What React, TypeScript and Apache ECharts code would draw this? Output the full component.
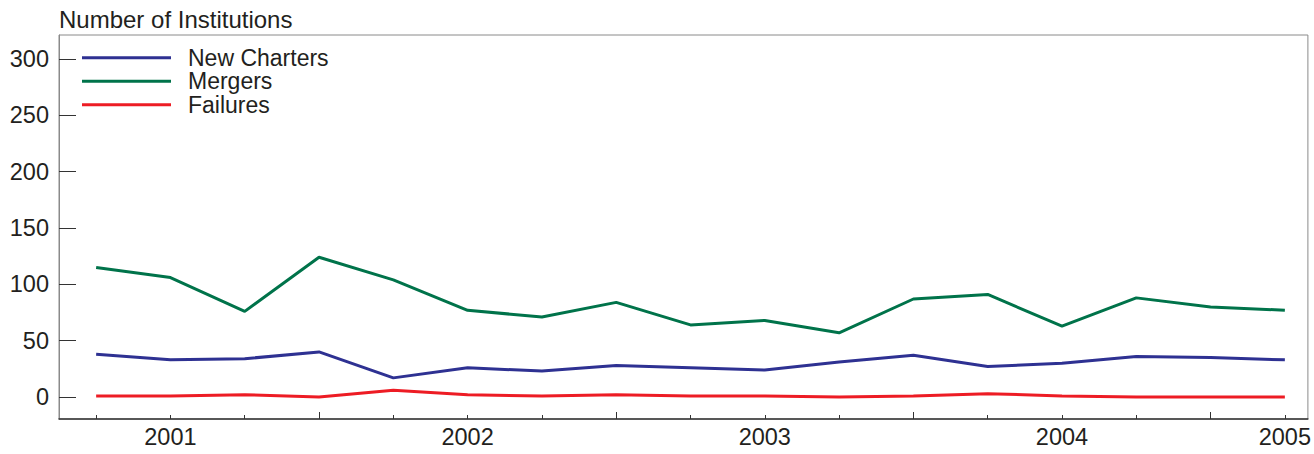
import React, { useEffect, useRef } from "react";
import * as echarts from "echarts";

const newCharters = [38, 33, 34, 40, 17, 26, 23, 28, 26, 24, 31, 37, 27, 30, 36, 35, 33];
const mergers = [115, 106, 76, 124, 104, 77, 71, 84, 64, 68, 57, 87, 91, 63, 88, 80, 77];
const failures = [1, 1, 2, 0, 6, 2, 1, 2, 1, 1, 0, 1, 3, 1, 0, 0, 0];
const xLabels = ["", "2001", "", "", "", "2002", "", "", "", "2003", "", "", "", "2004", "", "", "2005"];
const majorTickIdx = [3, 7, 11, 15];
const yTicks = [0, 50, 100, 150, 200, 250, 300];

const FONT = "Liberation Sans, Arial, Helvetica, sans-serif";
const TXT = "#231f20";

export default function App() {
  const ref = useRef<HTMLDivElement>(null);
  useEffect(() => {
    if (!ref.current) return;
    const chart = echarts.init(ref.current, null, { renderer: "svg" });
    const idx = xLabels.map((_, i) => i);
    const labelIdx = idx.filter((i) => xLabels[i] !== "");
    const toPairs = (arr: number[]) => arr.map((v, i) => [i, v]);
    chart.setOption({
      animation: false,
      textStyle: { fontFamily: FONT },
      title: {
        text: "Number of Institutions",
        left: 54,
        top: 2,
        textStyle: { fontFamily: FONT, fontSize: 24, fontWeight: "normal", color: TXT },
      },
      legend: {
        orient: "vertical",
        left: 82,
        top: 46,
        padding: 0,
        icon: "rect",
        itemWidth: 89,
        itemHeight: 3,
        itemGap: 0,
        textStyle: { fontFamily: FONT, fontSize: 23, color: TXT, lineHeight: 23.5, padding: [0, 0, 0, 12] },
        data: ["New Charters", "Mergers", "Failures"],
      },
      grid: {
        left: 59,
        right: 6,
        top: 35,
        bottom: 35,
        show: true,
        borderColor: "#8a8a8a",
        borderWidth: 1,
        containLabel: false,
      },
      xAxis: [
        {
          type: "value",
          min: -0.5,
          max: 16.31,
          axisLine: { show: true, onZero: false, lineStyle: { color: "#333", width: 1.5 } },
          axisTick: { show: true, inside: true, length: 4, customValues: idx, lineStyle: { color: "#333" } },
          axisLabel: {
            customValues: labelIdx,
            formatter: (v: number) => xLabels[Math.round(v)] || "",
            fontFamily: FONT,
            fontSize: 23.5,
            color: TXT,
            margin: 6,
          },
          splitLine: { show: false },
        },
        {
          type: "value",
          position: "bottom",
          min: -0.5,
          max: 16.31,
          axisLine: { show: false, onZero: false },
          axisTick: { show: true, inside: true, length: 7, customValues: majorTickIdx, lineStyle: { color: "#333" } },
          axisLabel: { show: false },
          splitLine: { show: false },
        },
      ],
      yAxis: {
        type: "value",
        min: -19.5,
        max: 321.3,
        axisLine: { show: true, onZero: false, lineStyle: { color: "#8a8a8a" } },
        axisTick: { show: true, inside: true, length: 17, customValues: yTicks, lineStyle: { color: "#333" } },
        axisLabel: { customValues: yTicks, fontFamily: FONT, fontSize: 23.5, color: TXT, margin: 10 },
        splitLine: { show: false },
      },
      series: [
        {
          name: "New Charters",
          type: "line",
          data: toPairs(newCharters),
          showSymbol: false,
          color: "#2e3192",
          lineStyle: { width: 3, color: "#2e3192" },
        },
        {
          name: "Mergers",
          type: "line",
          data: toPairs(mergers),
          showSymbol: false,
          color: "#00734a",
          lineStyle: { width: 3, color: "#00734a" },
        },
        {
          name: "Failures",
          type: "line",
          data: toPairs(failures),
          showSymbol: false,
          color: "#ed1c24",
          lineStyle: { width: 3, color: "#ed1c24" },
        },
      ],
    });
    return () => chart.dispose();
  }, []);
  return (
    <div
      ref={ref}
      style={{ position: "fixed", left: 0, top: 0, width: 1314, height: 454, background: "#fff" }}
    />
  );
}
